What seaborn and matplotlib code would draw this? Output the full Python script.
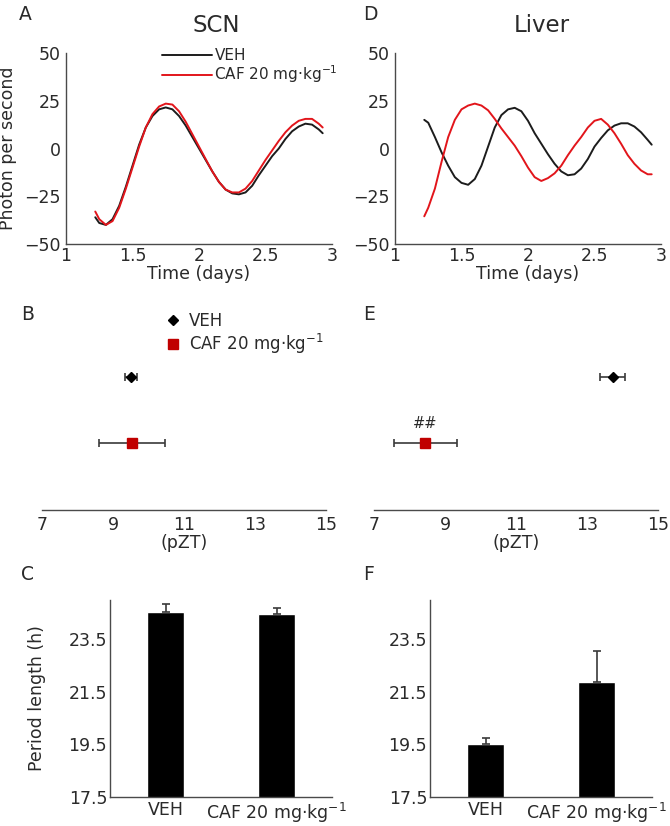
import matplotlib
matplotlib.use('Agg')
import matplotlib.pyplot as plt
from matplotlib.lines import Line2D
from matplotlib.ticker import FormatStrFormatter
import pandas as pd
import seaborn as sns

# bioluminescence traces (detrended)
times = [1.22, 1.25, 1.30, 1.35, 1.40, 1.45, 1.50, 1.55, 1.60, 1.65, 1.70, 1.75,
         1.80, 1.85, 1.90, 1.95, 2.00, 2.05, 2.10, 2.15, 2.20, 2.25, 2.30, 2.35,
         2.40, 2.45, 2.50, 2.55, 2.60, 2.65, 2.70, 2.75, 2.80, 2.85, 2.90, 2.93]
scn_veh = [-36, -39, -40, -37, -30, -20, -9, 2, 11, 17, 20.5, 21.5,
           20.5, 17, 12, 6, 0, -6, -12, -17.5, -21.5, -23.5, -24, -23,
           -19.5, -14, -9, -4, 0, 5, 9, 11.5, 13, 12.5, 10, 8]
scn_caf = [-33, -37, -40, -38, -31, -21, -10, 1, 11, 18, 22, 23.5,
           23, 19.5, 14, 7.5, 1, -5.5, -12, -17.5, -21.5, -23, -23, -21,
           -17, -11.5, -6, -1, 4, 8.5, 12, 14.5, 15.5, 15.5, 13, 11]
liver_veh = [15, 13.5, 6, -2, -9, -15, -18, -19, -16, -9, 1, 11,
             17.5, 20.5, 21.3, 19.5, 14.5, 8, 2.5, -3, -8, -12, -14, -13.5,
             -10.5, -5.5, 1, 5.5, 9.5, 12, 13.2, 13.2, 11.5, 8.5, 4.5, 2]
liver_caf = [-35.5, -31, -21, -7, 6, 15, 20.5, 22.5, 23.5, 22.5, 20, 15.5,
             10.5, 6, 1.5, -4, -10, -15, -17, -15.5, -13, -9, -3.5, 1.5,
             6, 11, 14.5, 15.5, 12.5, 8, 2.5, -3.5, -8, -11.5, -13.5, -13.5]

groups = ['VEH', 'CAF 20 mg·kg$^{-1}$']

# peak phase (pZT), mean and SEM
phase_scn = [9.5, 9.53]
phase_scn_err = [0.17, 0.93]
phase_liver = [13.72, 8.45]
phase_liver_err = [0.36, 0.9]

# period length (h), mean and SEM
period_scn = [24.55, 24.47]
period_scn_err = [0.3, 0.23]
period_liver = [19.52, 21.88]
period_liver_err = [0.23, 1.18]

sns.set_theme(style='white')
plt.rcParams['font.family'] = ['DejaVu Sans']
plt.rcParams['text.color'] = '#2a2a2a'
plt.rcParams['axes.labelcolor'] = '#2a2a2a'

W, H = 670, 826
fig = plt.figure(figsize=(W / 100, H / 100), dpi=100)


def px_axes(x0, y0, x1, y1):
    return fig.add_axes([x0 / W, 1 - y1 / H, (x1 - x0) / W, (y1 - y0) / H])


line_colors = {'VEH': '#1c1c1c', 'CAF': '#e2151b'}
spine_col = '#4a4a4a'
TICK = 12.5
LAB = 12.5


def style_spines(ax, left=True):
    for s in ['top', 'right']:
        ax.spines[s].set_visible(False)
    ax.spines['left'].set_visible(left)
    for s in ['left', 'bottom']:
        ax.spines[s].set_color(spine_col)
        ax.spines[s].set_linewidth(1.0)


def trace_panel(ax, veh, caf, ylabel=None):
    n = len(times)
    df = pd.DataFrame({'t': times * 2, 'v': veh + caf,
                       'g': ['VEH'] * n + ['CAF'] * n})
    sns.lineplot(data=df, x='t', y='v', hue='g', palette=line_colors,
                 linewidth=1.4, legend=False, ax=ax)
    ax.set_xlim(1, 3)
    ax.set_ylim(-50, 50)
    ax.set_xticks([1, 1.5, 2, 2.5, 3])
    ax.set_yticks([-50, -25, 0, 25, 50])
    ax.xaxis.set_major_formatter(FormatStrFormatter('%g'))
    ax.tick_params(direction='in', length=3, width=1, colors=spine_col,
                   labelcolor='#2a2a2a', labelsize=TICK)
    ax.tick_params(axis='x', pad=2)
    ax.tick_params(axis='y', pad=4)
    style_spines(ax)
    ax.set_xlabel('Time (days)', fontsize=LAB)
    ax.xaxis.set_label_coords(0.5, -0.11)
    if ylabel:
        ax.set_ylabel(ylabel, fontsize=LAB)
        ax.yaxis.set_label_coords(-0.185, 0.5)
    else:
        ax.set_ylabel('')


def phase_panel(ax, means, errs):
    markers = ['D', 's']
    colors = ['#000000', '#c00000']
    sizes = [5.5, 7.5]
    for i in range(2):
        ax.errorbar(means[i], 2 - i, xerr=errs[i], fmt=markers[i],
                    color=colors[i], ms=sizes[i], ecolor='#3a3a3a',
                    elinewidth=1.2, capsize=3, capthick=1.2, zorder=3)
    ax.set_xlim(7, 15)
    ax.set_ylim(0, 3)
    ax.set_xticks([7, 9, 11, 13, 15])
    ax.set_yticks([])
    style_spines(ax, left=False)
    ax.tick_params(axis='x', direction='in', length=4, width=1, colors=spine_col,
                   labelcolor='#2a2a2a', labelsize=TICK, pad=4.5)
    ax.set_xlabel('(pZT)', fontsize=LAB, labelpad=0)


def period_panel(ax, means, errs, ylabel=None):
    sns.barplot(x=groups, y=means, color='black', saturation=1, width=0.33,
                errorbar=None, ax=ax)
    ax.errorbar([0, 1], means, yerr=[[0, 0], errs], fmt='none',
                ecolor='#3a3a3a', elinewidth=1.2, capsize=3, capthick=1.2,
                zorder=3)
    ax.set_xlim(-0.5, 1.5)
    ax.set_ylim(17.5, 25)
    ax.set_yticks([17.5, 19.5, 21.5, 23.5])
    ax.yaxis.set_major_formatter(FormatStrFormatter('%.1f'))
    style_spines(ax)
    ax.tick_params(axis='y', direction='in', length=2, width=1, colors=spine_col,
                   labelcolor='#2a2a2a', labelsize=TICK, pad=2)
    ax.tick_params(axis='x', length=0, labelsize=TICK, labelcolor='#2a2a2a', pad=3)
    if ylabel:
        ax.set_ylabel(ylabel, fontsize=LAB)
        ax.yaxis.set_label_coords(-0.29, 0.5)
    else:
        ax.set_ylabel('')


# row 1: traces
axA = px_axes(66, 53, 332, 244)
trace_panel(axA, scn_veh, scn_caf, ylabel='Photon per second')
handles = [Line2D([], [], color=line_colors['VEH'], lw=1.4),
           Line2D([], [], color=line_colors['CAF'], lw=1.4)]
axA.legend(handles, groups, loc='upper left', bbox_to_anchor=(0.36, 1.025),
           frameon=False, fontsize=11, handlelength=3.3, handletextpad=0.15,
           labelspacing=0.0, borderpad=0, borderaxespad=0)

axD = px_axes(395, 53, 661, 244)
trace_panel(axD, liver_veh, liver_caf)

# row 2: phase
axB = px_axes(42, 310, 326, 510)
phase_panel(axB, phase_scn, phase_scn_err)
leg_handles = [Line2D([], [], marker='D', color='#000000', ls='none', ms=5.5),
               Line2D([], [], marker='s', color='#c00000', ls='none', ms=7.5)]
axB.legend(leg_handles, groups, loc='upper left', bbox_to_anchor=(0.437, 0.99),
           frameon=False, fontsize=12, handlelength=0.8, handletextpad=0.55,
           labelspacing=0.12, borderpad=0, borderaxespad=0)

axE = px_axes(374, 310, 658, 510)
phase_panel(axE, phase_liver, phase_liver_err)
axE.text(phase_liver[1], 1.3, '##', ha='center', va='center', fontsize=10.5)

# row 3: period
axC = px_axes(110, 600, 332, 797)
period_panel(axC, period_scn, period_scn_err, ylabel='Period length (h)')
axF = px_axes(430, 600, 652, 797)
period_panel(axF, period_liver, period_liver_err)

# titles and panel letters
fig.text(216 / W, 1 - 25 / H, 'SCN', ha='center', va='center', fontsize=16.5)
fig.text(542 / W, 1 - 25 / H, 'Liver', ha='center', va='center', fontsize=16.5)
for letter, x, y in [('A', 19, 15), ('D', 363, 15), ('B', 21, 314),
                     ('E', 363, 314), ('C', 21, 575), ('F', 363, 575)]:
    fig.text(x / W, 1 - y / H, letter, ha='left', va='center', fontsize=13.5)

plt.savefig('out.png', dpi=100)
